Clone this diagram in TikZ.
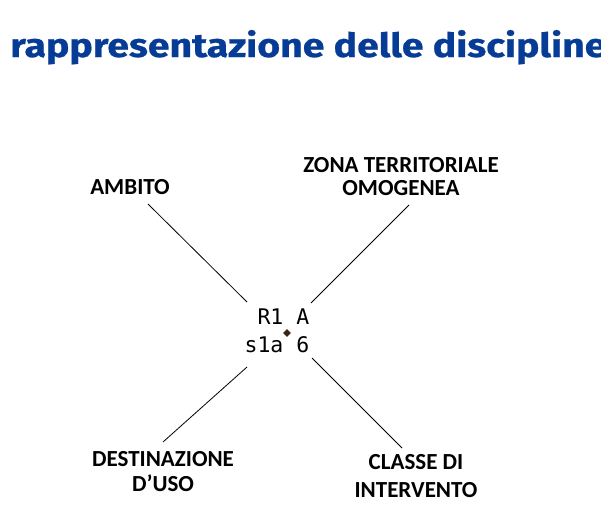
\documentclass[tikz,border=0pt]{standalone}
\usepackage{fontspec}
\setmainfont{Carlito}
\newfontfamily\titlefont[FakeBold=0.6]{Fira Sans}
\newfontfamily\codefont{DejaVu Sans Mono}
\usetikzlibrary{shapes.geometric}
\definecolor{titleblue}{HTML}{073C96}
\definecolor{dotbrown}{HTML}{3C2415}
\tikzset{
  lbl/.style={font=\fontsize{23}{25}\selectfont\bfseries, align=center, inner sep=0pt},
  conn/.style={draw=black, line width=0.8pt},
  code/.style={font=\fontsize{21.5}{28}\selectfont\codefont, align=right, inner sep=0pt, anchor=east},
}
\begin{document}
\begin{tikzpicture}[x=1pt,y=-1pt]
\useasboundingbox (0,0) rectangle (601,527);
\fill[white] (0,0) rectangle (601,527);
% title
\node[anchor=base west, inner sep=0pt, text=titleblue] (title) at (10,57)
  {\resizebox{596pt}{27pt}{\titlefont\bfseries rappresentazione delle discipline}};
% labels
\node[lbl] (ambito) at (130,187) {AMBITO};
\node[lbl] (zona) at (401,176.5) {ZONA TERRITORIALE\\[-2pt] OMOGENEA};
\node[lbl] (dest) at (163,471.5) {DESTINAZIONE\\ D’USO};
\node[lbl] (classe) at (416,476.5) {CLASSE DI\\[3pt] INTERVENTO};
% centre code
\node[code] (codice) at (309.5,331) {R1 A\\s1a 6};
\node[diamond, fill=dotbrown, inner sep=0pt, minimum size=8pt] (punto) at (287,333) {};
% connector ends
\coordinate (a1) at (148,204); \coordinate (a2) at (247,302);
\coordinate (z1) at (409,205); \coordinate (z2) at (311,303);
\coordinate (d1) at (163,442); \coordinate (d2) at (247,367);
\coordinate (c1) at (402,448); \coordinate (c2) at (312,358);
\draw[conn] (a1) -- (a2);
\draw[conn] (z1) -- (z2);
\draw[conn] (d2) -- (d1);
\draw[conn] (c2) -- (c1);
\end{tikzpicture}
\end{document}
